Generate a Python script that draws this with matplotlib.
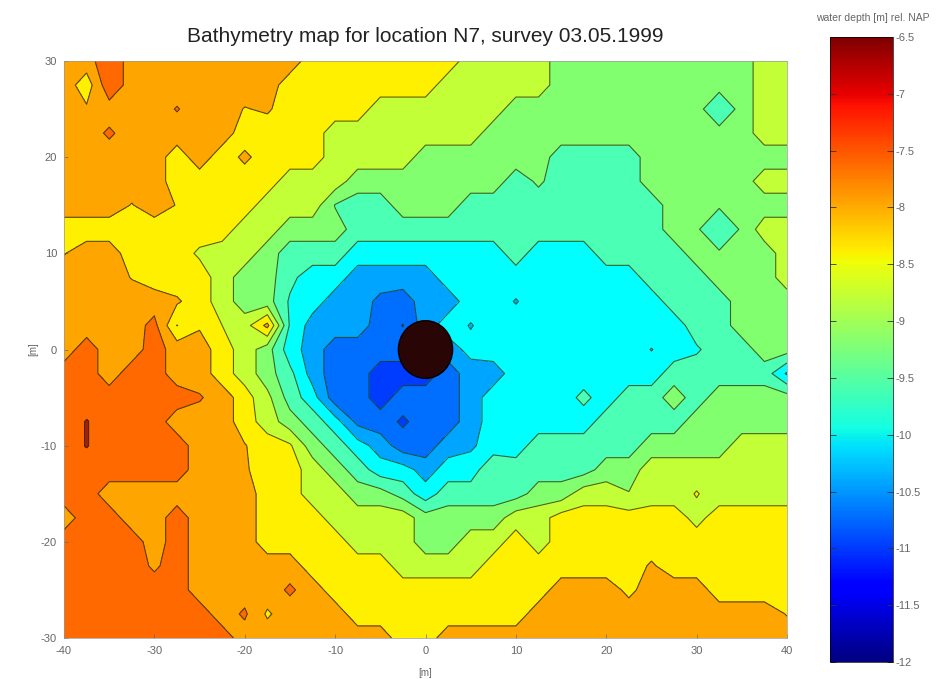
import numpy as np
import matplotlib
matplotlib.use("Agg")
import matplotlib.pyplot as plt
from matplotlib.patches import Circle
from matplotlib.colors import Normalize
from matplotlib.cm import ScalarMappable

plt.rcParams['font.family'] = ['Liberation Sans', 'DejaVu Sans']
plt.rcParams['axes.unicode_minus'] = False
plt.rcParams['contour.negative_linestyle'] = 'solid'

title = "Bathymetry map for location N7, survey 03.05.1999"
cbar_title = "water depth [m] rel. NAP"
x_ticks = [-40, -30, -20, -10, 0, 10, 20, 30, 40]
y_ticks = [-30, -20, -10, 0, 10, 20, 30]
cbar_ticks = [-12, -11.5, -11, -10.5, -10, -9.5, -9, -8.5, -8, -7.5, -7, -6.5]
cbar_labels = ['-12', '-11.5', '-11', '-10.5', '-10', '-9.5', '-9', '-8.5', '-8', '-7.5', '-7', '-6.5']

x_grid = [-40, -37.5, -35, -32.5, -30, -27.5, -25, -22.5, -20, -17.5, -15, -12.5, -10, -7.5, -5, -2.5, 0,
          2.5, 5, 7.5, 10, 12.5, 15, 17.5, 20, 22.5, 25, 27.5, 30, 32.5, 35, 37.5, 40]
y_grid = [30, 27.5, 25, 22.5, 20, 17.5, 15, 12.5, 10, 7.5, 5, 2.5, 0,
          -2.5, -5, -7.5, -10, -12.5, -15, -17.5, -20, -22.5, -25, -27.5, -30]

# depth below NAP [m], one row per y_grid value, one column per x_grid value
depth_rows = [
 [8,8,7.6,8,8,8,8,8,8,8,8,8.4,8.4,8.4,8.4,8.4,8.4,8.4,8.7,8.7,8.7,8.7,9.1,9.1,9.1,9.1,9.1,9.1,9.1,9.1,9.1,8.7,8.7],
 [8,8.4,7.6,8,8,8,8,8,8,8,8.4,8.4,8.4,8.4,8.4,8.4,8.4,8.7,8.7,8.7,8.7,8.7,9.1,9.1,9.1,9.1,9.1,9.1,9.1,9.1,9.1,8.7,8.7],
 [8,8.15,8,8,8,7.83,8,8,8.22,8.15,8.4,8.4,8.4,8.4,8.7,8.7,8.7,8.7,8.7,8.7,9.1,9.1,9.1,9.1,9.1,9.1,9.1,9.1,9.1,9.6,9.1,8.7,8.7],
 [8,8,7.8,8,8,8,8,8,8.4,8.4,8.4,8.4,8.7,8.7,8.7,8.7,8.7,8.7,8.7,9.1,9.1,9.1,9.1,9.1,9.1,9.1,9.1,9.1,9.1,9.1,9.1,8.7,8.7],
 [8,8,8,8,8,8.4,8,8.4,8.12,8.4,8.4,8.4,8.7,8.7,8.7,8.7,9.1,9.1,9.1,9.1,9.1,9.1,9.4,9.4,9.4,9.4,9.1,9.1,9.1,9.1,9.1,9.1,9.1],
 [8,8,8,8,8,8.4,8.4,8.4,8.4,8.4,8.7,8.7,8.7,9.1,9.1,9.1,9.1,9.1,9.1,9.1,9.4,9.2,9.4,9.4,9.4,9.4,9.1,9.1,9.1,9.1,9.1,8.7,8.7],
 [8,8,8,8.22,8,8.22,8.4,8.4,8.4,8.7,8.7,8.7,9.27,9.4,9.4,9.1,9.1,9.1,9.4,9.4,9.4,9.4,9.4,9.4,9.4,9.4,9.4,9.1,9.1,9.2,9.1,9.1,9.1],
 [8.4,8.4,8.4,8.4,8.4,8.4,8.4,8.4,8.7,8.7,9.1,9.1,9.1,9.4,9.4,9.4,9.4,9.4,9.4,9.4,9.4,9.4,9.4,9.4,9.4,9.4,9.4,9.1,9.2,9.58,9.2,8.7,8.7],
 [8.22,8,8,8.4,8.4,8.4,8.6,8.7,8.7,9.1,9.4,9.4,9.4,9.8,9.8,9.8,9.8,9.8,9.8,9.8,9.4,9.8,9.8,9.8,9.4,9.4,9.4,9.4,9.1,9.2,9.1,9.1,8.7],
 [8,8,8,8.22,8.4,8.4,8.4,8.7,9.1,9.1,9.5,9.8,9.8,10.1,10.1,10.1,10.1,9.8,9.8,9.8,9.8,9.8,9.8,9.8,9.8,9.8,9.4,9.4,9.4,9.1,9.1,9.1,8.7],
 [8,8,8,8,8,8.15,8.4,8.7,9.1,9.1,9.65,9.8,10.1,10.1,10.4,10.5,10.1,10.1,9.8,9.8,9.97,9.8,9.8,9.8,9.8,9.8,9.8,9.4,9.4,9.4,9.1,9.1,9.1],
 [8,8,8,8,7.75,8.56,8.25,8.55,8.7,8.1,9.65,10.1,10.1,10.1,10.5,10.66,10.1,9.8,9.97,9.8,9.8,9.8,9.8,9.8,9.8,9.8,9.8,9.8,9.4,9.4,9.1,9.1,9.1],
 [8,7.7,8,8,7.7,8,8,8.4,8.7,9.1,9.8,10.1,10.5,10.5,10.5,10.5,10.5,10.1,9.85,9.8,9.8,9.8,9.8,9.8,9.8,9.8,9.96,9.8,9.65,9.4,9.4,9.1,9.1],
 [7.7,7.7,8,7.7,7.7,8,8,8.4,8.7,9.1,9.5,10.1,10.5,10.5,10.8,10.8,10.8,10.5,10.1,10.1,9.8,9.8,9.8,9.8,9.8,9.8,9.8,9.4,9.4,9.4,9.4,9.4,10],
 [7.7,7.7,7.7,7.7,7.7,7.7,7.82,8,8.4,8.8,9.4,9.8,10.5,10.5,10.8,10.5,10.5,10.5,10.1,9.8,9.8,9.8,9.8,9.5,9.8,9.4,9.4,9.1,9.4,9.1,9.1,9.1,9.1],
 [7.7,7.48,7.7,7.7,7.7,8,8,8,8.4,8.7,9.1,9.4,9.8,10.4,10.5,10.7,10.5,10.5,10.1,9.8,9.8,9.8,9.8,9.8,9.4,9.4,9.4,9.4,9.1,9.1,9.1,9.1,9.1],
 [7.7,7.48,7.7,7.7,7.7,7.7,8,8,8.18,8.4,8.5,9.1,9.4,9.8,10.1,10.5,10.5,10.1,10,9.8,9.8,9.4,9.4,9.4,9.4,9.4,9.1,9.1,9.1,9.1,8.7,8.7,8.7],
 [7.7,7.7,7.7,7.7,7.7,7.7,8,8,8.15,8.4,8.4,8.7,9.1,9.4,9.8,9.8,10.1,9.8,9.8,9.28,9.4,9.4,9.4,9.4,9.1,9.1,8.7,8.7,8.7,8.7,8.7,8.7,8.7],
 [7.7,7.7,8,8,8,8,8,8,8,8.4,8.4,8.7,8.7,9.1,9.1,9.4,9.8,9.4,9.4,9.4,9.4,9.1,9.1,8.7,8.7,8.88,8.7,8.7,8.53,8.7,8.7,8.7,8.7],
 [8,7.7,7.7,8,8,7.7,8,8,8,8.4,8.4,8.4,8.7,8.7,8.7,8.7,9.1,9.1,9.1,9.1,8.7,8.7,8.4,8.4,8.4,8.4,8.4,8.4,8.65,8.4,8.4,8.4,8.4],
 [7.7,7.7,7.7,7.7,8,7.7,8,8,8,8.4,8.4,8.4,8.4,8.7,8.7,8.7,9.1,9.1,8.7,8.7,8.4,8.7,8.4,8.4,8.4,8.4,8.4,8.4,8.4,8.4,8.4,8.4,8.4],
 [7.7,7.7,7.7,7.7,7.9,7.7,8,8,8,8,8,8.4,8.4,8.4,8.4,8.7,8.7,8.7,8.7,8.4,8.4,8.4,8.4,8.4,8.4,8.4,8.15,8.4,8.4,8.4,8.4,8.4,8.4],
 [7.7,7.7,7.7,7.7,7.7,7.7,8,8,8,8,7.8,8,8.4,8.4,8.4,8.4,8.4,8.4,8.4,8.4,8.4,8.4,8,8,8,8.3,8,8,8,8.4,8.4,8.4,8.4],
 [7.7,7.7,7.7,7.7,7.7,7.7,7.7,8,7.8,8.25,8,8,8,8.4,8.4,8.4,8.4,8.4,8.4,8.4,8.4,8,8,8,8,8,8,8,8,8,8,8,8.22],
 [7.7,7.7,7.7,7.7,7.7,7.7,7.7,7.7,8,8,8,8,8,8,8,8.4,8.4,8,8,8,8,8,8,8,8,8,8,8,8,8,8,8,8],
]

band_limits = [-12, -10.65, -10.3, -9.95, -9.6, -9.25, -8.9, -8.55, -8.2, -7.85, -7.5, -6.5]
band_colours = ['#003cff', '#006eff', '#00a5ff', '#00ffff', '#4bffb4', '#82ff6e',
                '#c3ff37', '#fff000', '#ffa500', '#ff6900', '#aa1e00']
pile_x, pile_y, pile_radius = 0, 0, 3

W, H = 952, 679
fig = plt.figure(figsize=(W / 100, H / 100), dpi=100)
ax = fig.add_axes([64 / W, 1 - 638 / H, 723 / W, 577 / H])

Z = -np.array(depth_rows)
ax.contourf(x_grid, y_grid, Z, levels=band_limits, colors=band_colours)
ax.contour(x_grid, y_grid, Z, levels=band_limits[1:-1], colors='#203010', linewidths=0.8, alpha=0.75)
ax.add_patch(Circle((pile_x, pile_y), pile_radius, facecolor='#2a0505', edgecolor='black', linewidth=1, zorder=5))

ax.set_xlim(-40, 40)
ax.set_ylim(-30, 30)
ax.set_xticks(x_ticks)
ax.set_yticks(y_ticks)
ax.tick_params(direction='in', length=3, width=0.5, labelsize=8, labelcolor='#666666', color='#666666')
ax.tick_params(axis='x', pad=6)
ax.tick_params(axis='y', pad=5)
for s in ax.spines.values():
    s.set_linewidth(0.5)
    s.set_color('#999999')
ax.set_title(title, fontsize=15, color='#222222', pad=14)
fig.text(425 / W, 1 - 673 / H, '[m]', fontsize=7, color='#666666', ha='center', va='center')
fig.text(33 / W, 1 - 349 / H, '[m]', fontsize=7, color='#666666', ha='center', va='center', rotation=90)

cax = fig.add_axes([830 / W, 1 - 662 / H, 63 / W, 625 / H])
cb = fig.colorbar(ScalarMappable(norm=Normalize(-12, -6.5), cmap='jet'), cax=cax)
cb.set_ticks(cbar_ticks)
cb.set_ticklabels(cbar_labels)
cb.ax.tick_params(direction='in', length=4, width=0.6, labelsize=8, labelcolor='#666666', color='#333333', pad=2, left=True)
cb.outline.set_linewidth(0.5)
fig.text(873 / W, 1 - 18 / H, cbar_title, fontsize=7.5, color='#666666', ha='center', va='center')

fig.savefig('out.png', dpi=100)
